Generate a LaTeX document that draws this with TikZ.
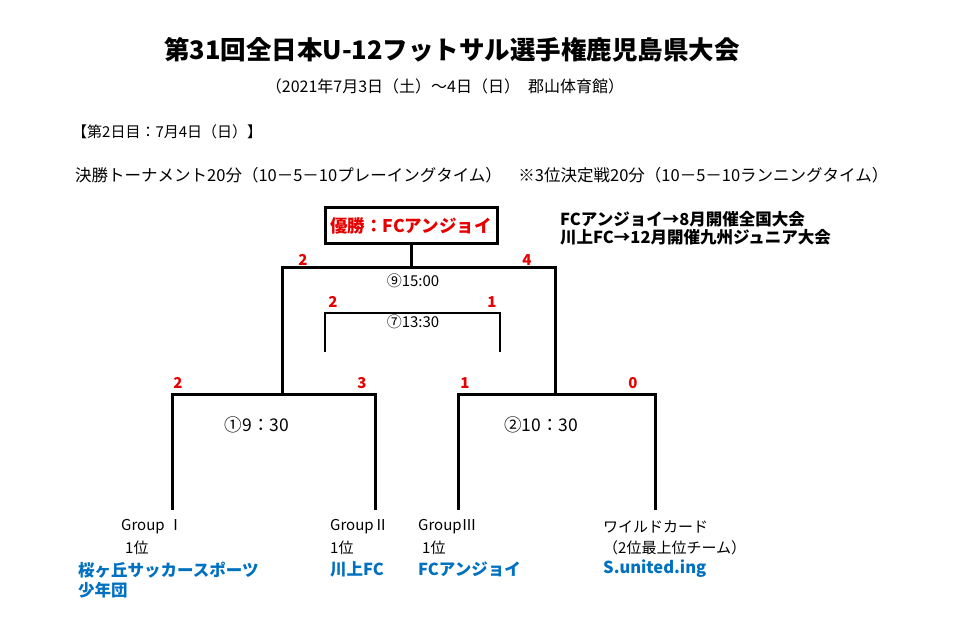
\documentclass[tikz,border=0pt]{standalone}
\usepackage{fontspec}
\setmainfont{Noto Sans CJK JP}
\definecolor{sc}{RGB}{230,0,0}
\definecolor{bl}{RGB}{0,112,192}
\begin{document}
\begin{tikzpicture}[x=1pt,y=-1pt,
 br/.style={line width=3pt},
 thin3/.style={line width=1.2pt},
 score/.style={text=sc,font=\bfseries\fontsize{15}{16}\selectfont},
 t/.style={font=\fontsize{15}{20}\selectfont,anchor=west,inner sep=0},
 team/.style={t,text=bl,font=\bfseries\fontsize{16.5}{20}\selectfont}]
\useasboundingbox (0,0) rectangle (972,617);
\node[font=\bfseries\fontsize{25.5}{28}\selectfont] (title) at (452,50) {第31回全日本U-12フットサル選手権鹿児島県大会};
\node[font=\fontsize{16}{18}\selectfont] (sub) at (445,86) {（2021年7月3日（土）～4日（日）\enspace 郡山体育館）};
\node[t] (day) at (72,132) {【第2日目：7月4日（日）】};
\node[t,font=\fontsize{16.5}{18}\selectfont] (rule) at (75,175) {決勝トーナメント20分（10－5－10プレーイングタイム）\quad ※3位決定戦20分（10－5－10ランニングタイム）};
\node[t,font=\bfseries\fontsize{16.5}{18}\selectfont,align=left] (note) at (560,228) {FCアンジョイ→8月開催全国大会\\川上FC→12月開催九州ジュニア大会};
\node[draw,line width=3pt,text=sc,font=\bfseries\fontsize{17.5}{20}\selectfont,minimum width=172pt,minimum height=36pt,inner sep=2pt] (win) at (411,226) {優勝：FCアンジョイ};
\coordinate (fT) at (411,268);
\coordinate (fL) at (282,268);
\coordinate (fR) at (555,268);
\coordinate (aL) at (172,395); \coordinate (aR) at (375,395); \coordinate (aM) at (282,395);
\coordinate (bL) at (458,395); \coordinate (bR) at (655,395); \coordinate (bM) at (555,395);
\draw[br] (win.south) -- (fT);
\draw[br] (aM) -- (fL) -- (fR) -- (bM);
\draw[br] (172,510) -- (aL) -- (aR) -- (375,510);
\draw[br] (458,510) -- (bL) -- (bR) -- (655,510);
\coordinate (tL) at (325,313); \coordinate (tR) at (500,313);
\draw[thin3] (325,352) -- (tL) -- (tR) -- (500,352);
\node[font=\fontsize{15}{17}\selectfont] (m9) at (413,281) {⑨15:00};
\node[font=\fontsize{15}{17}\selectfont] (m7) at (413,322) {⑦13:30};
\node[font=\fontsize{17.5}{19}\selectfont] (m1) at (257,425) {①9：30};
\node[font=\fontsize{17.5}{19}\selectfont] (m2) at (541,425) {②10：30};
\node[score] (s1) at (303,260) {2};
\node[score] (s2) at (527,260) {4};
\node[score] (s3) at (333,302) {2};
\node[score] (s4) at (492,302) {1};
\node[score] (s5) at (178,383) {2};
\node[score] (s6) at (362,383) {3};
\node[score] (s7) at (465,383) {1};
\node[score] (s8) at (633,383) {0};
\node[t] (g1) at (121,527) {Group Ⅰ};
\node[t] (g1b) at (125,548) {1位};
\node[team,align=left] (g1c) at (78,580) {桜ヶ丘サッカースポーツ\\少年団};
\node[t] (g2) at (330,527) {GroupⅡ};
\node[t] (g2b) at (330,548) {1位};
\node[team] (g2c) at (330,569) {川上FC};
\node[t] (g3) at (418,527) {GroupⅢ};
\node[t] (g3b) at (422,548) {1位};
\node[team] (g3c) at (418,569) {FCアンジョイ};
\node[t] (g4) at (603,527) {ワイルドカード};
\node[t] (g4b) at (603,548) {（2位最上位チーム）};
\node[team] (g4c) at (603,569) {S.united.ing};
\end{tikzpicture}
\end{document}
